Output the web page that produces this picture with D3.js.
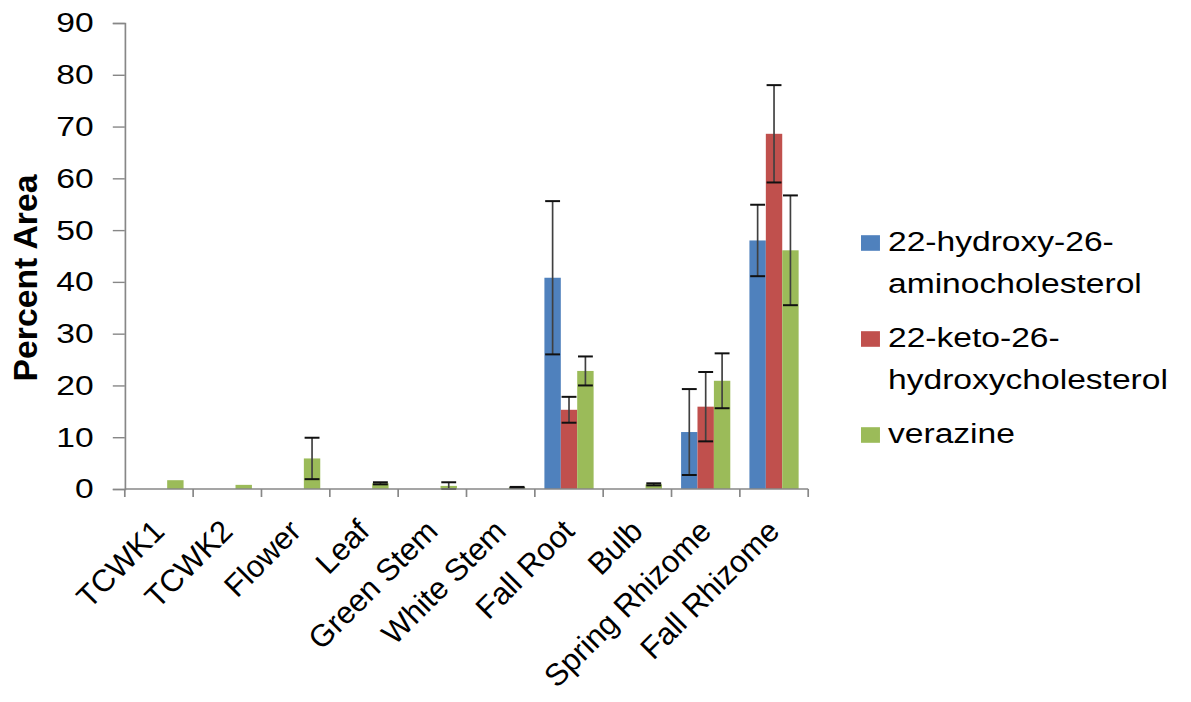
<!DOCTYPE html>
<html>
<head>
<meta charset="utf-8">
<script src="https://cdn.jsdelivr.net/npm/d3@7"></script>
<style>
  html, body { margin: 0; padding: 0; background: #fff; }
  text { font-family: "Liberation Sans", Arial, sans-serif; fill: #000; }
</style>
</head>
<body>
<div id="chart"></div>
<script>
//chart data
const categories = ["TCWK1", "TCWK2", "Flower", "Leaf", "Green Stem", "White Stem", "Fall Root", "Bulb", "Spring Rhizome", "Fall Rhizome"];
const seriesNames = ["22-hydroxy-26-aminocholesterol", "22-keto-26-hydroxycholesterol", "verazine"];
const legendLines = [["22-hydroxy-26-", "aminocholesterol"], ["22-keto-26-", "hydroxycholesterol"], ["verazine"]];

const aminoValues    = [0, 0, 0, 0, 0, 0, 40.8, 0, 11.0, 48.0];
const aminoErrors    = [0, 0, 0, 0, 0, 0, 14.8, 0, 8.3, 6.9];
const ketoValues     = [0, 0, 0, 0, 0, 0, 15.3, 0, 15.9, 68.6];
const ketoErrors     = [0, 0, 0, 0, 0, 0, 2.5, 0, 6.7, 9.4];
const verazineValues = [1.7, 0.8, 5.9, 1.1, 0.6, 0.3, 22.8, 0.9, 20.9, 46.1];
const verazineErrors = [0, 0, 4.0, 0.2, 0.7, 0.1, 2.8, 0.2, 5.3, 10.6];

const yTicks = [0, 10, 20, 30, 40, 50, 60, 70, 80, 90];
const colors = ["#4F81BD", "#C0504D", "#9BBB59"];

//the picture is a bit wider than tall text would be, so draw in a narrower box and stretch it
const width = 1191, height = 702;
const stretch = 1.2;
const vbWidth = width / stretch;
const margin = { top: 23, bottom: 213, left: 104, right: 319 };

const svg = d3.select("#chart")
  .append("svg")
  .attr("width", width)
  .attr("height", height)
  .attr("viewBox", `0 0 ${vbWidth} ${height}`)
  .attr("preserveAspectRatio", "none");

const allValues = [aminoValues, ketoValues, verazineValues];
const allErrors = [aminoErrors, ketoErrors, verazineErrors];

//flatten into one row per bar
const bars = [];
categories.forEach((c, i) => {
  seriesNames.forEach((s, j) => {
    bars.push({ cat: c, series: s, idx: j, value: allValues[j][i], err: allErrors[j][i] });
  });
});

const x0 = d3.scaleBand().domain(categories)
  .range([margin.left, vbWidth - margin.right])
  .paddingInner(0.28).paddingOuter(0.14);
const x1 = d3.scaleBand().domain(seriesNames).range([0, x0.bandwidth()]);
const y = d3.scaleLinear().domain([0, 90]).range([height - margin.bottom, margin.top]);

const axisColor = "#878787";

//bars
svg.append("g").selectAll("rect")
  .data(bars.filter(d => d.value > 0))
  .join("rect")
  .attr("x", d => x0(d.cat) + x1(d.series))
  .attr("width", x1.bandwidth())
  .attr("y", d => y(d.value))
  .attr("height", d => y(0) - y(d.value))
  .attr("fill", d => colors[d.idx]);

//error bars
const capHalf = 6.2;
const eb = svg.append("g").selectAll("g")
  .data(bars.filter(d => d.err > 0))
  .join("g")
  .attr("transform", d => `translate(${x0(d.cat) + x1(d.series) + x1.bandwidth() / 2},0)`);
eb.append("line")
  .attr("y1", d => y(d.value + d.err))
  .attr("y2", d => y(Math.max(0, d.value - d.err)))
  .attr("stroke", "#404040").attr("stroke-width", 1.4);
eb.append("line")
  .attr("x1", -capHalf).attr("x2", capHalf)
  .attr("y1", d => y(d.value + d.err)).attr("y2", d => y(d.value + d.err))
  .attr("stroke", "#111").attr("stroke-width", 2);
eb.append("line")
  .attr("x1", -capHalf).attr("x2", capHalf)
  .attr("y1", d => y(Math.max(0, d.value - d.err))).attr("y2", d => y(Math.max(0, d.value - d.err)))
  .attr("stroke", "#111").attr("stroke-width", 2);

//y axis
const yAxis = d3.axisLeft(y).tickValues(yTicks).tickSize(10).tickPadding(16);
const gy = svg.append("g")
  .attr("transform", `translate(${margin.left},0)`)
  .call(yAxis);
gy.select(".domain").attr("stroke", axisColor).attr("stroke-width", 1.4);
gy.selectAll(".tick line").attr("stroke", axisColor).attr("stroke-width", 1.4);
gy.selectAll(".tick text").attr("font-size", 28).attr("fill", "#000")
  .style("font-family", "'Liberation Sans', Arial, sans-serif");

//x axis: ticks at category boundaries
const xEdges = categories.map(c => x0(c) - x0.step() * x0.paddingOuter());
xEdges.push(vbWidth - margin.right);
const gx = svg.append("g");
gx.append("line")
  .attr("x1", margin.left).attr("x2", vbWidth - margin.right)
  .attr("y1", y(0)).attr("y2", y(0))
  .attr("stroke", axisColor).attr("stroke-width", 1.6);
gx.selectAll("line.tk")
  .data(xEdges)
  .join("line")
  .attr("class", "tk")
  .attr("x1", d => d).attr("x2", d => d)
  .attr("y1", y(0)).attr("y2", y(0) + 8)
  .attr("stroke", axisColor).attr("stroke-width", 1.4);
//labels sit at a true 45 degrees on screen, so undo the stretch for them
gx.selectAll("text")
  .data(categories)
  .join("text")
  .attr("text-anchor", "end")
  .attr("font-size", 31)
  .attr("transform", d => `translate(${x0(d) + x0.bandwidth() / 2 + 6},${y(0) + 44}) scale(${1 / stretch},1) rotate(-45)`)
  .text(d => d);

//axis title
svg.append("text")
  .attr("transform", `translate(31,${(y(0) + y(90)) / 2 + 22}) rotate(-90)`)
  .attr("text-anchor", "middle")
  .attr("font-size", 28)
  .attr("font-weight", "bold")
  .attr("textLength", 207)
  .attr("lengthAdjust", "spacingAndGlyphs")
  .text("Percent Area");

//legend
const legendX = 717.5;
const lineHeight = 42;
let ly = 243;
legendLines.forEach((lines, i) => {
  const lg = svg.append("g").attr("transform", `translate(${legendX},${ly})`);
  lg.append("rect")
    .attr("x", 0).attr("y", -7.8)
    .attr("width", 15.8).attr("height", 15.6)
    .attr("fill", colors[i]);
  lines.forEach((t, k) => {
    lg.append("text")
      .attr("x", 22.5)
      .attr("y", k * lineHeight + 8)
      .attr("font-size", 28)
      .text(t);
  });
  ly += lines.length * lineHeight + 12;
});
</script>
</body>
</html>
